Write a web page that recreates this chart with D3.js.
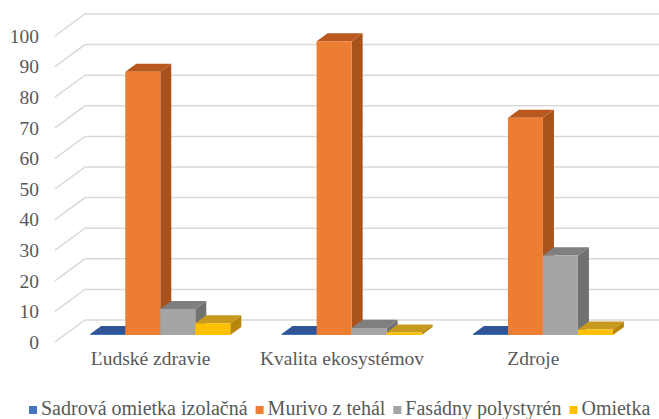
<!DOCTYPE html>
<html>
<head>
<meta charset="utf-8">
<script src="https://cdn.jsdelivr.net/npm/d3@7"></script>
<style>
  html, body { margin: 0; padding: 0; background: #fff; }
</style>
</head>
<body>
<svg id="chart" width="659" height="419"></svg>
<script>
// Categories, series and values
const categories = ["Ľudské zdravie", "Kvalita ekosystémov", "Zdroje"];
const seriesNames = ["Sadrová omietka izolačná", "Murivo z tehál", "Fasádny polystyrén", "Omietka"];
const sadrova = [0.3, 0.3, 0.3];
const murivo = [86, 96, 71];
const polystyren = [8.5, 2.3, 26];
const omietka = [3.8, 0.8, 1.8];
const yTicks = [0, 10, 20, 30, 40, 50, 60, 70, 80, 90, 100];

const seriesValues = [sadrova, murivo, polystyren, omietka];
// front, top and side shades of each series
const colors = [
  { front: "#4472C4", top: "#2F5597", side: "#2B4F8C" },
  { front: "#ED7D31", top: "#B9591F", side: "#A9521C" },
  { front: "#A5A5A5", top: "#7F7F7F", side: "#717171" },
  { front: "#FFC000", top: "#C79A1E", side: "#B8860B" }
];

const FONT = "Liberation Serif";
const TEXT_COLOR = "#595959";

const svg = d3.select("#chart");

// front plane of the 3D box and the depth offset to the back wall
const frontLeft = 55, frontRight = 629;
const depth = { dx: 30, dy: -22 };
const barFront = 0.32, barBack = 0.687;

const x0 = d3.scaleBand().domain(categories).range([frontLeft, frontRight]);
const x1 = d3.scaleBand().domain(seriesNames).range([0, x0.bandwidth()])
  .paddingInner(0).paddingOuter(0.733);
const y = d3.scaleLinear().domain([0, 100]).range([342, 36]);

// projection of a point (x on front plane, value, depth fraction)
const P = (x, v, d) => [x + depth.dx * d, y(v) + depth.dy * d];

// gridlines: left wall diagonal + back wall horizontal
const grid = svg.append("g");
yTicks.forEach(t => {
  const a = P(frontLeft, t, 0), b = P(frontLeft, t, 1);
  grid.append("path")
    .attr("d", `M${a[0]},${a[1]}L${b[0]},${b[1]}L659,${b[1]}`)
    .attr("fill", "none").attr("stroke", "#d9d9d9").attr("stroke-width", 1.5);
});

// value axis labels
svg.append("g").selectAll("text").data(yTicks).join("text")
  .attr("x", 39).attr("y", d => y(d))
  .attr("dy", "0.35em")
  .attr("text-anchor", "end")
  .attr("font-family", FONT).attr("font-size", 19.5).attr("fill", TEXT_COLOR)
  .text(d => d);

// bars
const bars = svg.append("g");
const poly = pts => "M" + pts.map(p => p.join(",")).join("L") + "Z";
categories.forEach((cat, ci) => {
  seriesNames.forEach((s, si) => {
    const v = seriesValues[si][ci];
    const xl = x0(cat) + x1(s), xr = xl + x1.bandwidth();
    const c = colors[si];
    // right side
    bars.append("path").attr("fill", c.side)
      .attr("d", poly([P(xr, 0, barFront), P(xr, 0, barBack), P(xr, v, barBack), P(xr, v, barFront)]));
    // top
    bars.append("path").attr("fill", c.top)
      .attr("d", poly([P(xl, v, barFront), P(xr, v, barFront), P(xr, v, barBack), P(xl, v, barBack)]));
    // front
    bars.append("path").attr("fill", c.front)
      .attr("d", poly([P(xl, 0, barFront), P(xr, 0, barFront), P(xr, v, barFront), P(xl, v, barFront)]));
  });
});

// category labels
svg.append("g").selectAll("text").data(categories).join("text")
  .attr("x", d => x0(d) + x0.bandwidth() / 2)
  .attr("y", 365)
  .attr("text-anchor", "middle")
  .attr("font-family", FONT).attr("font-size", 19.5).attr("fill", TEXT_COLOR)
  .text(d => d);

// legend
const legend = svg.append("g");
let lx = 29;
seriesNames.forEach((s, si) => {
  legend.append("rect").attr("x", lx).attr("y", 406).attr("width", 8).attr("height", 8)
    .attr("fill", colors[si].front);
  const t = legend.append("text").attr("x", lx + 12).attr("y", 415)
    .attr("font-family", FONT).attr("font-size", 20).attr("fill", TEXT_COLOR)
    .text(s);
  lx += 12 + t.node().getComputedTextLength() + 8;
});
</script>
</body>
</html>
